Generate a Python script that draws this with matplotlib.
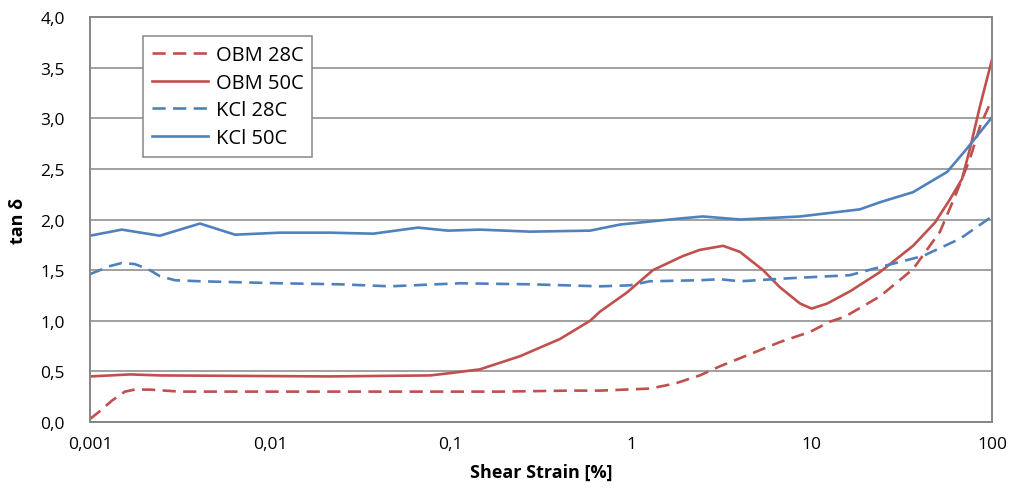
import matplotlib
matplotlib.use("Agg")
import matplotlib.pyplot as plt
from matplotlib.ticker import FixedLocator, FuncFormatter, NullLocator

# ---- data (strain in %, tan delta) ----
obm28_x = [0.001, 0.00114, 0.00132, 0.00156, 0.00177, 0.00215, 0.00316, 0.0077, 0.0243, 0.187,
           0.458, 0.671, 1.27, 1.75, 2.40, 3.10, 4.56, 6.68, 9.80, 12.6, 15.3, 23.9, 36.5,
           51.5, 62.4, 75.5, 85.8, 100]
obm28_y = [0.03, 0.11, 0.21, 0.30, 0.32, 0.32, 0.30, 0.30, 0.30, 0.30,
           0.31, 0.31, 0.33, 0.38, 0.46, 0.55, 0.67, 0.79, 0.89, 0.99, 1.04, 1.24, 1.51,
           1.88, 2.23, 2.60, 2.92, 3.19]

obm50_x = [0.001, 0.00167, 0.00244, 0.0214, 0.0767, 0.0964, 0.145, 0.242, 0.403, 0.592,
           0.671, 0.949, 1.32, 1.94, 2.40, 3.23, 4.01, 5.38, 6.68, 8.63, 10.0, 12.2, 16.3,
           23.9, 36.5, 48.3, 58.5, 68.2, 75.5, 85.8, 100]
obm50_y = [0.45, 0.47, 0.46, 0.45, 0.46, 0.48, 0.52, 0.65, 0.82, 1.00,
           1.09, 1.28, 1.50, 1.64, 1.70, 1.74, 1.68, 1.50, 1.33, 1.17, 1.12, 1.17, 1.29,
           1.48, 1.74, 1.97, 2.20, 2.40, 2.70, 3.12, 3.58]

kcl28_x = [0.001, 0.00129, 0.00150, 0.00177, 0.00210, 0.00244, 0.00296, 0.00407, 0.0113,
           0.0243, 0.046, 0.112, 0.275, 0.671, 0.984, 1.27, 2.40, 3.10, 4.01, 7.59, 16.3,
           23.9, 41.5, 66.5, 100]
kcl28_y = [1.46, 1.54, 1.57, 1.56, 1.51, 1.44, 1.40, 1.39, 1.37,
           1.36, 1.34, 1.37, 1.36, 1.34, 1.35, 1.39, 1.40, 1.41, 1.39, 1.42, 1.45,
           1.53, 1.64, 1.81, 2.03]

kcl50_x = [0.001, 0.00150, 0.00244, 0.00407, 0.00637, 0.0113, 0.0214, 0.0371, 0.0658, 0.0964,
           0.145, 0.275, 0.592, 0.867, 1.866, 2.50, 4.01, 8.63, 18.5, 23.9, 36.5, 56.4,
           72.6, 100]
kcl50_y = [1.84, 1.90, 1.84, 1.96, 1.85, 1.87, 1.87, 1.86, 1.92, 1.89,
           1.90, 1.88, 1.89, 1.95, 2.01, 2.03, 2.00, 2.03, 2.10, 2.17, 2.27, 2.47,
           2.70, 3.01]

x_ticks = [0.001, 0.01, 0.1, 1, 10, 100]
x_tick_labels = ["0,001", "0,01", "0,1", "1", "10", "100"]
y_ticks = [0.0, 0.5, 1.0, 1.5, 2.0, 2.5, 3.0, 3.5, 4.0]

RED = "#C0504D"
BLUE = "#4F81BD"
GRID = "#868686"

plt.rcParams['font.family'] = ['Open Sans', 'DejaVu Sans']

fig = plt.figure(figsize=(10.13, 5.02), dpi=100)
ax = fig.add_axes([90/1013, 1 - 423/502, (992 - 90)/1013, (423 - 18)/502])

lw = 1.9
dash = (5.0, 2.8)
ax.plot(obm28_x, obm28_y, color=RED, lw=lw, dashes=dash, label="OBM 28C")
ax.plot(obm50_x, obm50_y, color=RED, lw=lw, label="OBM 50C")
ax.plot(kcl28_x, kcl28_y, color=BLUE, lw=lw, dashes=dash, label="KCl 28C")
ax.plot(kcl50_x, kcl50_y, color=BLUE, lw=lw, label="KCl 50C")

ax.set_xscale('log')
ax.set_xlim(0.001, 100)
ax.set_ylim(0, 4.0)
ax.xaxis.set_major_locator(FixedLocator(x_ticks))
ax.xaxis.set_minor_locator(NullLocator())
ax.set_xticklabels(x_tick_labels)
ax.yaxis.set_major_locator(FixedLocator(y_ticks))
ax.yaxis.set_major_formatter(FuncFormatter(lambda v, p: f"{v:.1f}".replace(".", ",")))

ax.grid(axis='y', color=GRID, lw=1.1, zorder=0)
ax.set_axisbelow(True)
for s in ax.spines.values():
    s.set_color(GRID)
    s.set_linewidth(1.4)
ax.tick_params(axis='both', length=0, labelsize=12.5, colors='black')
ax.tick_params(axis='x', pad=10)
ax.tick_params(axis='y', pad=18)

ax.set_xlabel("Shear Strain [%]", fontsize=13, fontweight='bold', labelpad=8)
ax.set_ylabel("tan δ", fontsize=13, fontweight='bold', labelpad=10)

leg = ax.legend(loc='upper left', bbox_to_anchor=((143 - 90)/902, 1 - (37 - 18)/405),
                frameon=True, fancybox=False, fontsize=14.5, handlelength=2.8,
                handletextpad=0.35, borderpad=0.45, labelspacing=0.38, borderaxespad=0)
leg.get_frame().set_edgecolor(GRID)
leg.get_frame().set_linewidth(1.1)
leg.get_frame().set_alpha(1)

fig.savefig("out.png", dpi=100)
